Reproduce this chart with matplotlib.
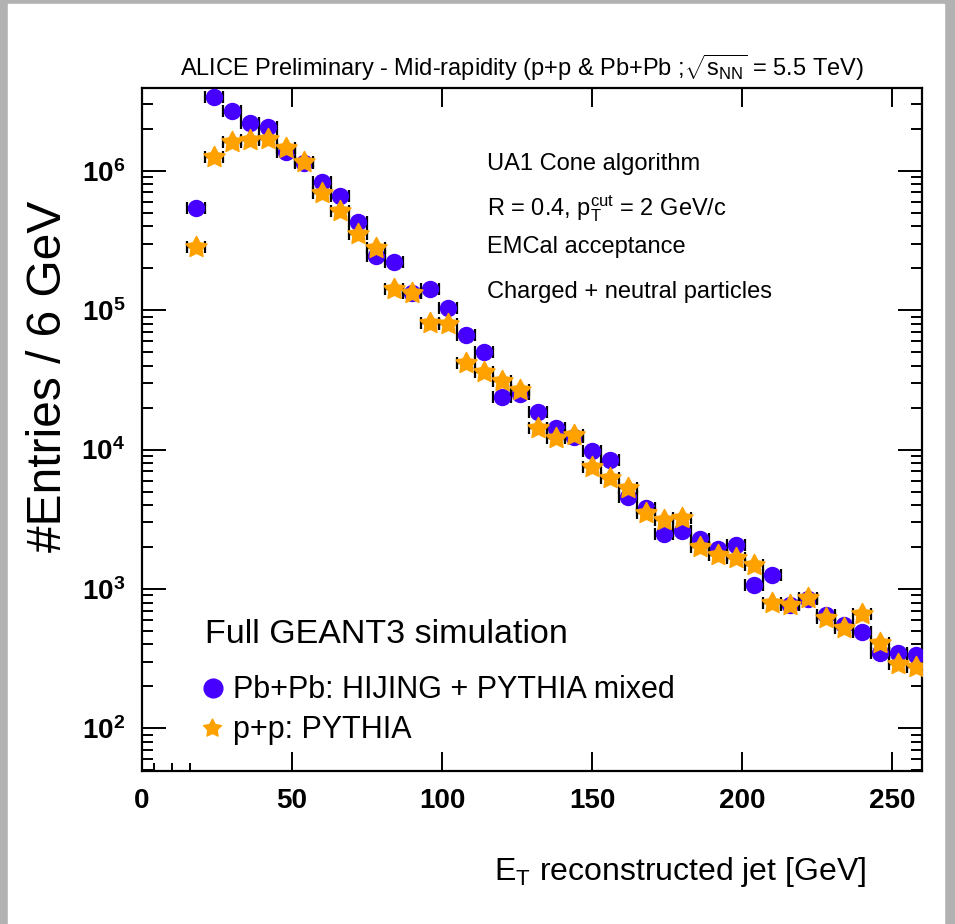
import numpy as np
import matplotlib
matplotlib.use('Agg')
import matplotlib.pyplot as plt
from matplotlib.patches import Rectangle
from matplotlib.lines import Line2D
from matplotlib.path import Path
from matplotlib.ticker import FixedLocator, LogLocator, FuncFormatter, NullFormatter

plt.rcParams['font.family'] = ['Liberation Sans', 'DejaVu Sans']
plt.rcParams['mathtext.fontset'] = 'custom'
plt.rcParams['mathtext.rm'] = 'Liberation Sans'
plt.rcParams['mathtext.it'] = 'Liberation Sans:italic'
plt.rcParams['mathtext.bf'] = 'Liberation Sans:bold'

# jet E_T bin centres (6 GeV bins)
et = [18, 24, 30, 36, 42, 48, 54, 60, 66, 72, 78, 84, 90, 96, 102, 108, 114,
      120, 126, 132, 138, 144, 150, 156, 162, 168, 174, 180, 186, 192, 198,
      204, 210, 216, 222, 228, 234, 240, 246, 252, 258]
half_bin = 3

# Pb+Pb: HIJING + PYTHIA mixed
pbpb = [5.43e5, 3.36e6, 2.68e6, 2.21e6, 2.05e6, 1.37e6, 1.13e6, 8.34e5, 6.62e5,
        4.31e5, 2.45e5, 2.22e5, 1.32e5, 1.41e5, 1.03e5, 6.62e4, 4.98e4, 2.39e4,
        2.49e4, 1.85e4, 1.42e4, 1.23e4, 9.79e3, 8.4e3, 4.59e3, 3.78e3, 2.50e3,
        2.60e3, 2.28e3, 1.95e3, 2.07e3, 1.07e3, 1.26e3, 767, 842, 650, 551, 493,
        345, 345, 336]

# p+p: PYTHIA
pp = [2.85e5, 1.25e6, 1.61e6, 1.66e6, 1.68e6, 1.46e6, 1.16e6, 6.89e5, 5.16e5,
      3.52e5, 2.77e5, 1.41e5, 1.32e5, 8.04e4, 7.9e4, 4.15e4, 3.61e4, 3.10e4,
      2.67e4, 1.43e4, 1.22e4, 1.27e4, 7.54e3, 6.21e3, 5.27e3, 3.48e3, 3.12e3,
      3.21e3, 2.01e3, 1.75e3, 1.66e3, 1.48e3, 789, 767, 857, 615, 521, 660,
      411, 292, 274]

blue = '#4600ff'
orange = '#ffa200'

# chunky ROOT-style full star marker
ang = np.pi / 2 + np.arange(10) * np.pi / 5
rad = np.where(np.arange(10) % 2 == 0, 1.0, 0.52)
star = Path(np.column_stack([rad * np.cos(ang), rad * np.sin(ang)]).tolist()
            + [[0, 1]], closed=True)

W, H = 955, 924
fig = plt.figure(figsize=(W / 100, H / 100), dpi=100, facecolor='#b2b2b2')
# white slide area inside the grey frame
fig.patches.append(Rectangle((8 / W, 0), (944 - 8) / W, (H - 4) / H,
                             transform=fig.transFigure, color='white', zorder=-10))

ax = fig.add_axes([142 / W, 1 - 771 / H, (922 - 142) / W, (771 - 88) / H])
ax.patch.set_visible(False)
ax.set_xlim(0, 260)
ax.set_ylim(49.5, 3.92e6)
ax.set_yscale('log')

ax.errorbar(et, pbpb, xerr=half_bin, fmt='o', ms=11.5, mfc=blue, mec=blue,
            ecolor='black', elinewidth=1.6, capsize=4, capthick=1.6, zorder=3)
ax.errorbar(et, pp, xerr=half_bin, fmt='none', ecolor='black', elinewidth=1.6,
            capsize=4, capthick=1.6, zorder=4)
ax.plot(et, pp, ls='none', marker=star, ms=16, mfc=orange, mec=orange,
        mew=1, zorder=4.5)

# ROOT-like axes
for s in ax.spines.values():
    s.set_linewidth(1.6)
ax.xaxis.set_major_locator(FixedLocator([0, 50, 100, 150, 200, 250]))
ax.xaxis.set_minor_locator(FixedLocator([4, 10, 16]))
ax.yaxis.set_major_locator(LogLocator(base=10, numticks=10))
ax.yaxis.set_minor_locator(LogLocator(base=10, subs=np.arange(2, 10), numticks=20))
ax.yaxis.set_minor_formatter(NullFormatter())
ax.yaxis.set_major_formatter(FuncFormatter(
    lambda v, p: r'$\mathbf{10^{%d}}$' % round(np.log10(v))))
ax.tick_params(axis='both', which='both', direction='in', top=True, right=True,
               width=1.4)
ax.tick_params(axis='x', which='major', length=14, pad=12, labelsize=20)
ax.tick_params(axis='x', which='minor', length=6, top=False)
ax.tick_params(axis='y', which='major', length=17, pad=12, labelsize=20)
ax.tick_params(axis='y', which='minor', length=8)
for lab in ax.get_xticklabels():
    lab.set_fontweight('bold')

# titles and labels
fig.text(522 / W, 1 - 76 / H,
         r'ALICE Preliminary - Mid-rapidity (p+p & Pb+Pb ;$\sqrt{\mathrm{s}_{\mathrm{NN}}}$ = 5.5 TeV)',
         ha='center', va='baseline', fontsize=17)
fig.text(49 / W, 1 - 376 / H, '#Entries / 6 GeV', rotation=90,
         ha='center', va='center', fontsize=34.5)
fig.text(866 / W, 1 - 880 / H, r'E$_{\mathrm{T}}$ reconstructed jet [GeV]',
         ha='right', va='baseline', fontsize=23)

# info text
info = ['UA1 Cone algorithm',
        r'R = 0.4, $\mathrm{p}_{\mathrm{T}}^{\mathrm{cut}}$ = 2 GeV/c',
        'EMCal acceptance',
        'Charged + neutral particles']
for txt, yb in zip(info, [170, 215, 253, 298]):
    fig.text(487 / W, 1 - yb / H, txt, ha='left', va='baseline', fontsize=17)

# legend block
fig.text(205 / W, 1 - 643 / H, 'Full GEANT3 simulation', ha='left',
         va='baseline', fontsize=24.5)
fig.text(233 / W, 1 - 698 / H, 'Pb+Pb: HIJING + PYTHIA mixed', ha='left',
         va='baseline', fontsize=22)
fig.text(233 / W, 1 - 738 / H, 'p+p: PYTHIA', ha='left',
         va='baseline', fontsize=22)
fig.lines.append(Line2D([213 / W], [1 - 688 / H], marker='o', ms=13.5,
                        mfc=blue, mec=blue, transform=fig.transFigure))
fig.lines.append(Line2D([212 / W], [1 - 728 / H], marker=star, ms=13.5,
                        mfc=orange, mec=orange, transform=fig.transFigure))

fig.savefig('out.png', dpi=100, facecolor=fig.get_facecolor())
